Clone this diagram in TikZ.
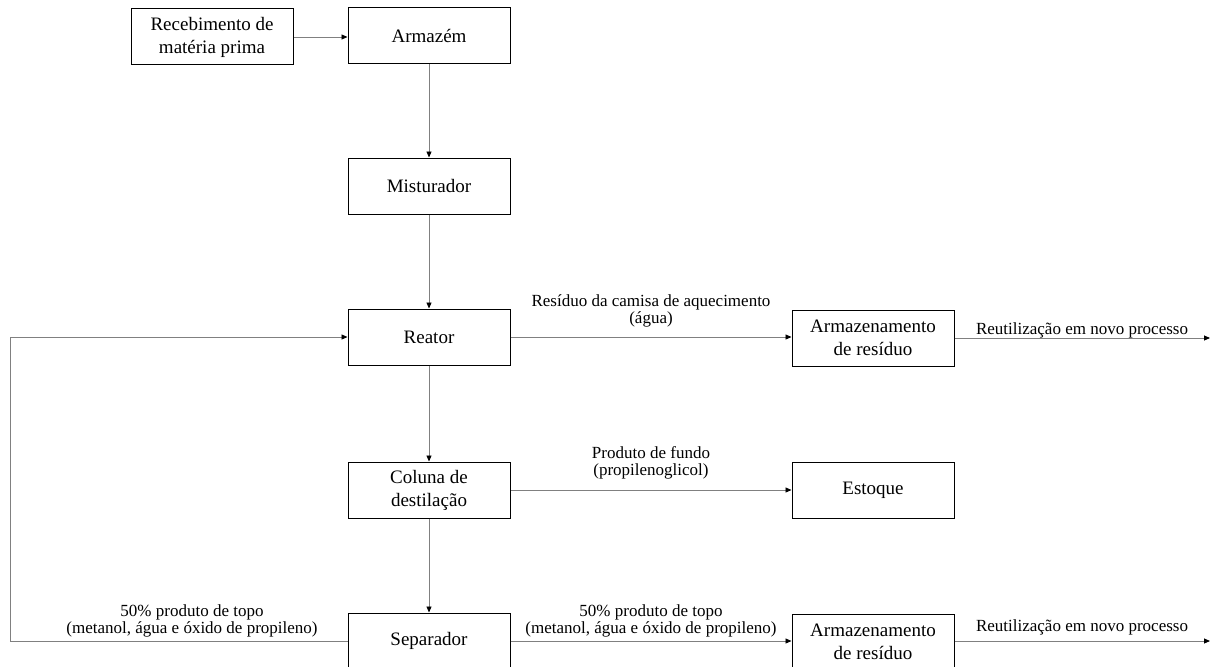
\documentclass[tikz,border=0pt]{standalone}
\usepackage{fontspec}
\setmainfont{Liberation Serif}
\usetikzlibrary{arrows.meta}
\begin{document}
\begin{tikzpicture}[x=1pt,y=-1pt,
 box/.style={draw=black,line width=1pt,minimum width=162pt,minimum height=56pt,inner sep=0pt,align=center,font=\fontsize{19}{23}\selectfont},
 conn/.style={draw=black!50,line width=0.9pt,-{Triangle[length=6pt,width=5pt,color=black]}},
 lbl/.style={font=\fontsize{17}{17}\selectfont,align=center,inner sep=0pt}]
\useasboundingbox (0,0) rectangle (1214,666);
\clip (0,0) rectangle (1214,666);
\node[box] (rec) at (212,37) {Recebimento de\\matéria prima};
\node[box] (arm) at (429,36) {Armazém};
\node[box] (mis) at (429,186) {Misturador};
\node[box] (rea) at (429,337) {Reator};
\node[box] (res1) at (873,338) {Armazenamento\\de resíduo};
\node[box] (col) at (429,490) {Coluna de\\destilação};
\node[box] (est) at (873,490) {Estoque};
\node[box] (sep) at (429,641) {Separador};
\node[box] (res2) at (873,642) {Armazenamento\\de resíduo};
\coordinate (o1) at (1210,338);
\coordinate (o2) at (1210,641);
\coordinate (fb) at (10,0);
\draw[conn] (rec.east) -- (rec.east -| arm.west);
\draw[conn] (arm) -- (mis);
\draw[conn] (mis) -- (rea);
\draw[conn] (rea) -- (col);
\draw[conn] (col) -- (sep);
\draw[conn] (rea.east) -- (rea.east -| res1.west);
\draw[conn] (col) -- (est);
\draw[conn] (sep.east) -- (sep.east -| res2.west);
\draw[conn] (res1.east) -- (o1);
\draw[conn] (sep.east -| res2.east) -- (o2);
\draw[conn] (sep.west) -| (fb |- rea.west) -- (rea.west);
\node[lbl] (l1) at (651,311) {Resíduo da camisa de aquecimento\\(água)};
\node[lbl] (l2) at (1082,330) {Reutilização em novo processo};
\node[lbl] (l3) at (651,463) {Produto de fundo\\(propilenoglicol)};
\node[lbl] (l4) at (192,621) {50\% produto de topo\\(metanol, água e óxido de propileno)};
\node[lbl] (l5) at (651,621) {50\% produto de topo\\(metanol, água e óxido de propileno)};
\node[lbl] (l6) at (1082,627) {Reutilização em novo processo};
\end{tikzpicture}
\end{document}
